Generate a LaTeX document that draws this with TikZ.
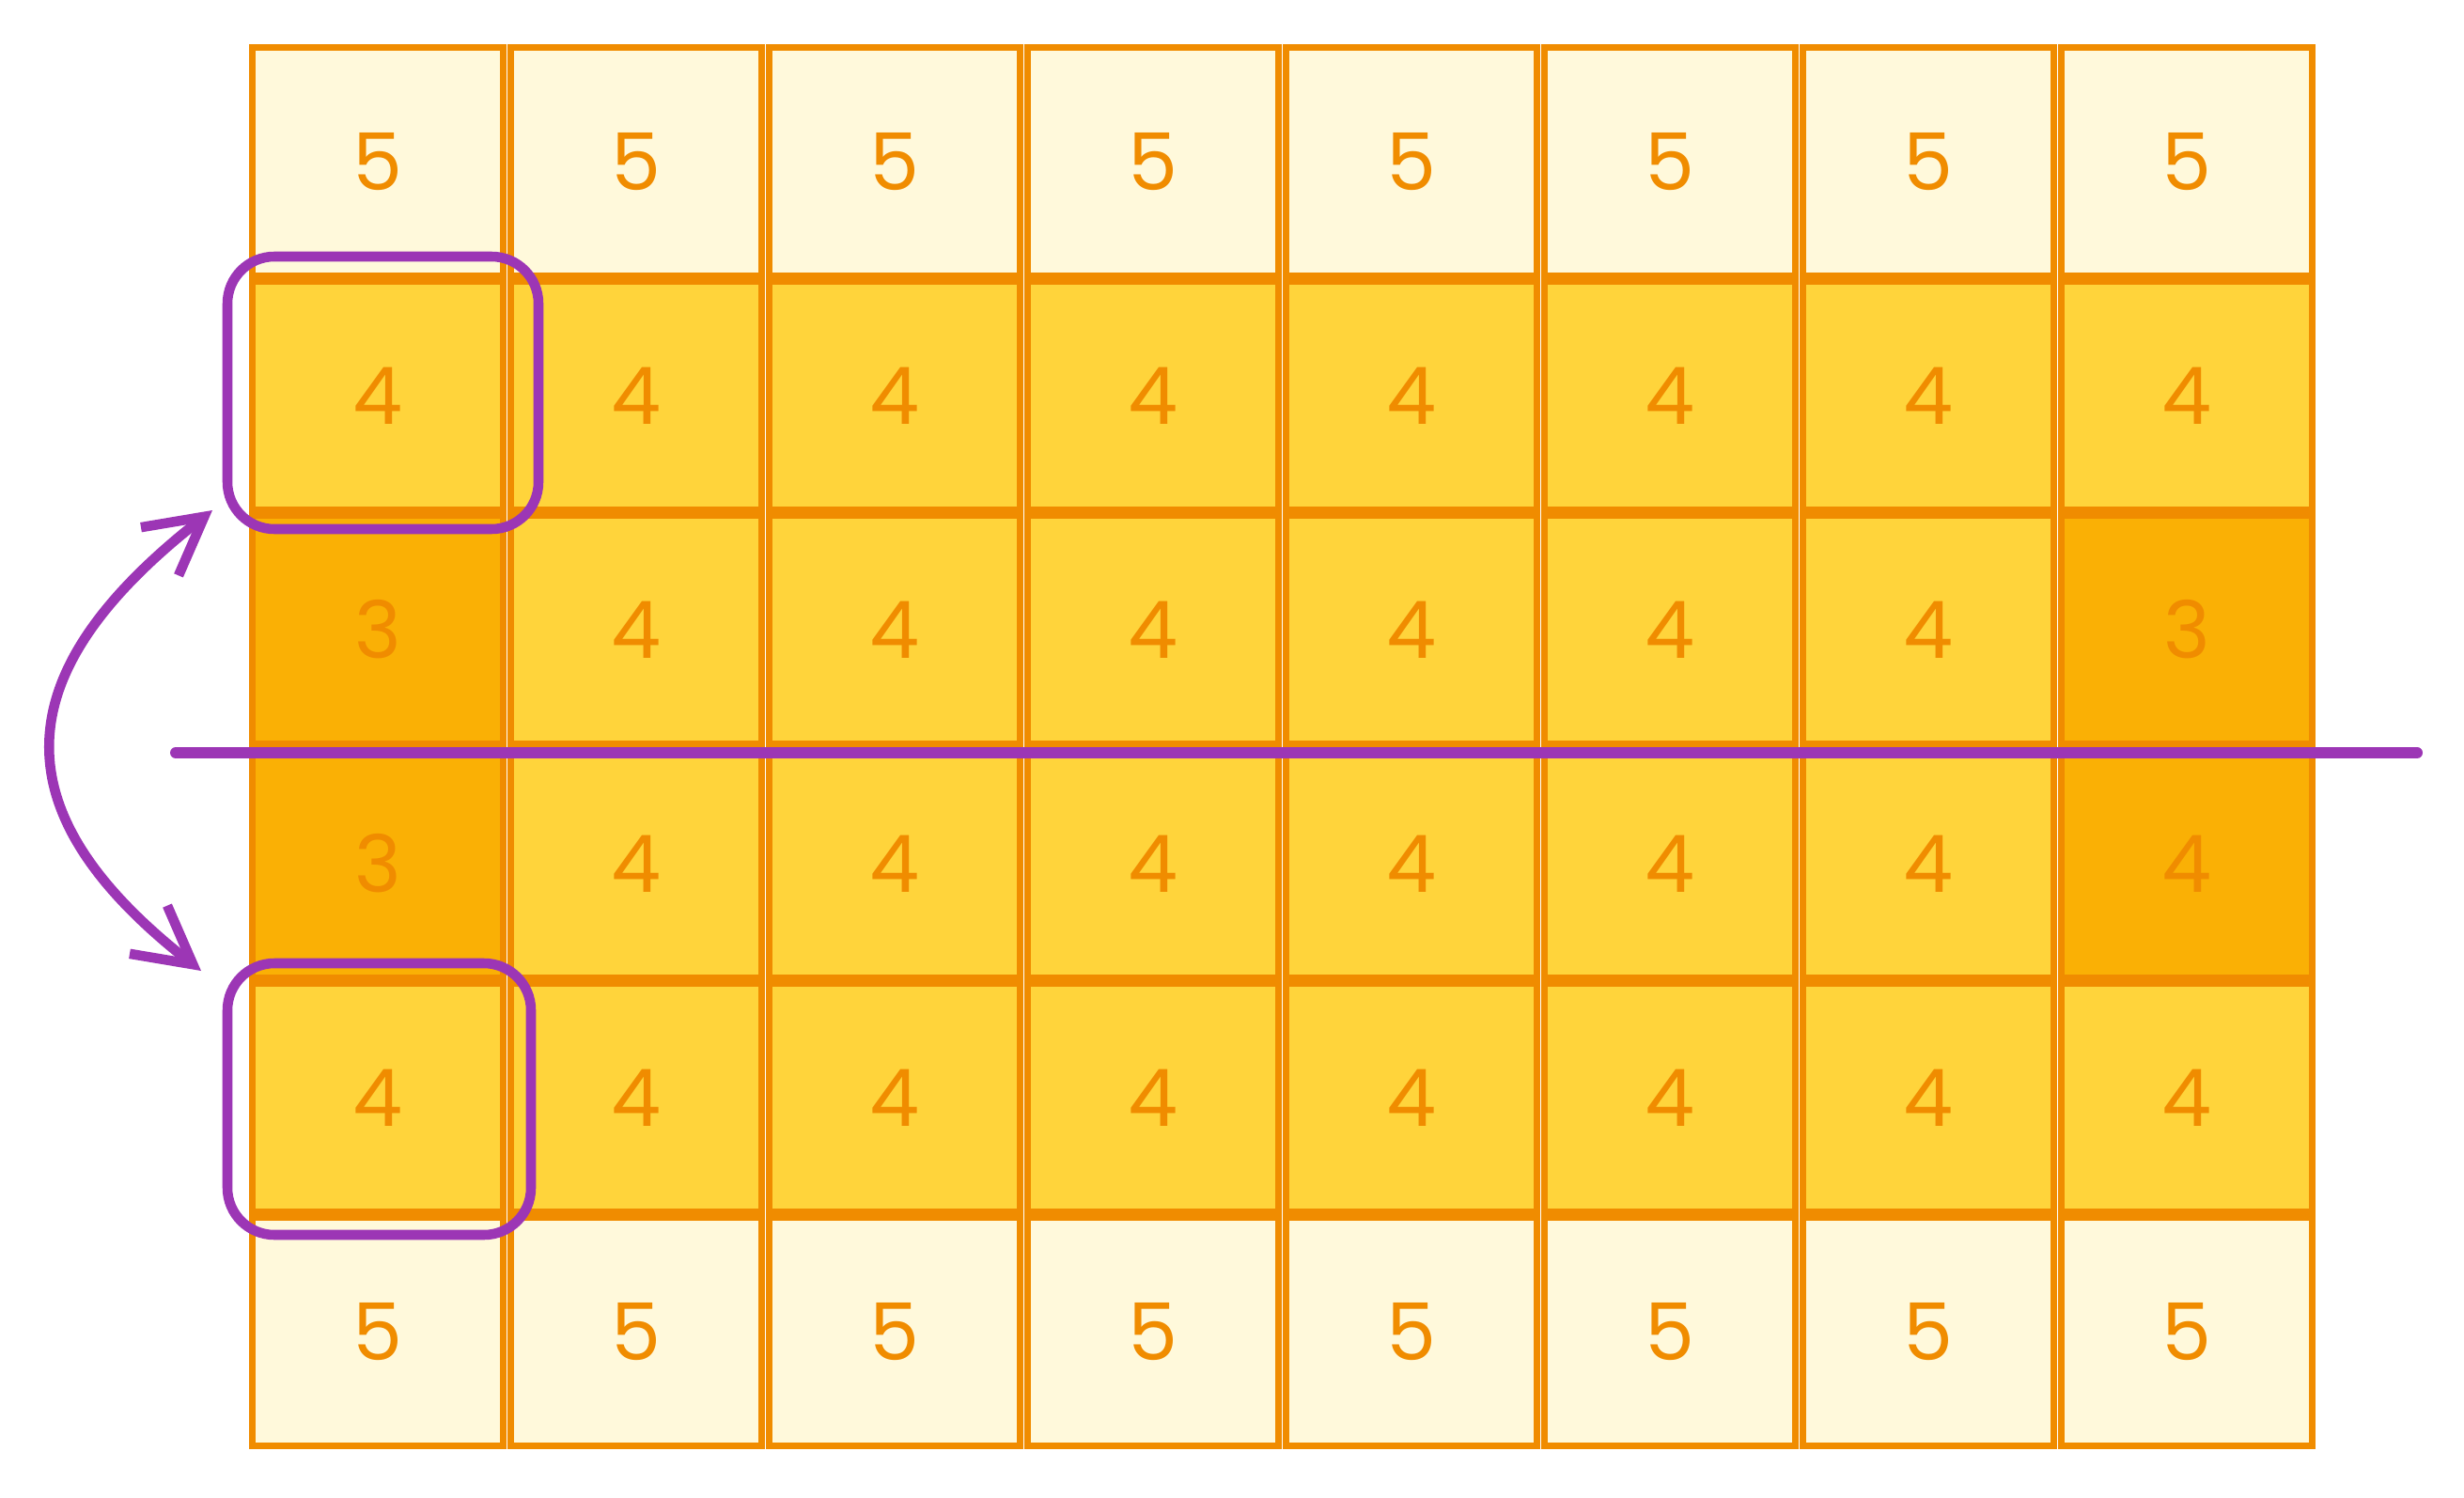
\documentclass[tikz,border=0pt]{standalone}
\usepackage{fontspec}
\setmainfont{Poppins}
\usetikzlibrary{arrows.meta,positioning}

\definecolor{cellline}{HTML}{F08C00}
\definecolor{celllight}{HTML}{FFF9DB}
\definecolor{cellmid}{HTML}{FFD43B}
\definecolor{celldark}{HTML}{FAB005}
\definecolor{grape}{HTML}{9C36B5}

\begin{document}
\begin{tikzpicture}[x=1cm,y=1cm]
\tikzset{
  cell/.style={rectangle,draw=cellline,line width=1.8pt,minimum width=2.67cm,minimum height=2.43cm,
    inner sep=0pt,text=cellline,font=\fontsize{24}{24}\selectfont},
  light/.style={cell,fill=celllight},
  mid/.style={cell,fill=cellmid},
  dark/.style={cell,fill=celldark},
  hilite/.style={rectangle,draw=grape,line width=3pt,rounded corners=0.5cm,inner sep=0pt},
  cutline/.style={draw=grape,line width=3.4pt,line cap=round},
  swaparrow/.style={{Straight Barb[length=6mm,width=6.5mm,line width=3pt]}-{Straight Barb[length=6mm,width=6.5mm,line width=3pt]},
    draw=grape,line width=3pt,line cap=round}
}
\useasboundingbox (0,0) rectangle (26.22,-15.94);
% row 0
\node[light] (c_0_0) at (4.02,-1.72) {5};
\node[light] (c_1_0) at (6.77,-1.72) {5};
\node[light] (c_2_0) at (9.52,-1.72) {5};
\node[light] (c_3_0) at (12.27,-1.72) {5};
\node[light] (c_4_0) at (15.02,-1.72) {5};
\node[light] (c_5_0) at (17.77,-1.72) {5};
\node[light] (c_6_0) at (20.52,-1.72) {5};
\node[light] (c_7_0) at (23.27,-1.72) {5};
% row 1
\node[mid] (c_0_1) at (4.02,-4.21) {4};
\node[mid] (c_1_1) at (6.77,-4.21) {4};
\node[mid] (c_2_1) at (9.52,-4.21) {4};
\node[mid] (c_3_1) at (12.27,-4.21) {4};
\node[mid] (c_4_1) at (15.02,-4.21) {4};
\node[mid] (c_5_1) at (17.77,-4.21) {4};
\node[mid] (c_6_1) at (20.52,-4.21) {4};
\node[mid] (c_7_1) at (23.27,-4.21) {4};
% row 2
\node[dark] (c_0_2) at (4.02,-6.70) {3};
\node[mid] (c_1_2) at (6.77,-6.70) {4};
\node[mid] (c_2_2) at (9.52,-6.70) {4};
\node[mid] (c_3_2) at (12.27,-6.70) {4};
\node[mid] (c_4_2) at (15.02,-6.70) {4};
\node[mid] (c_5_2) at (17.77,-6.70) {4};
\node[mid] (c_6_2) at (20.52,-6.70) {4};
\node[dark] (c_7_2) at (23.27,-6.70) {3};
% row 3
\node[dark] (c_0_3) at (4.02,-9.19) {3};
\node[mid] (c_1_3) at (6.77,-9.19) {4};
\node[mid] (c_2_3) at (9.52,-9.19) {4};
\node[mid] (c_3_3) at (12.27,-9.19) {4};
\node[mid] (c_4_3) at (15.02,-9.19) {4};
\node[mid] (c_5_3) at (17.77,-9.19) {4};
\node[mid] (c_6_3) at (20.52,-9.19) {4};
\node[dark] (c_7_3) at (23.27,-9.19) {4};
% row 4
\node[mid] (c_0_4) at (4.02,-11.68) {4};
\node[mid] (c_1_4) at (6.77,-11.68) {4};
\node[mid] (c_2_4) at (9.52,-11.68) {4};
\node[mid] (c_3_4) at (12.27,-11.68) {4};
\node[mid] (c_4_4) at (15.02,-11.68) {4};
\node[mid] (c_5_4) at (17.77,-11.68) {4};
\node[mid] (c_6_4) at (20.52,-11.68) {4};
\node[mid] (c_7_4) at (23.27,-11.68) {4};
% row 5
\node[light] (c_0_5) at (4.02,-14.17) {5};
\node[light] (c_1_5) at (6.77,-14.17) {5};
\node[light] (c_2_5) at (9.52,-14.17) {5};
\node[light] (c_3_5) at (12.27,-14.17) {5};
\node[light] (c_4_5) at (15.02,-14.17) {5};
\node[light] (c_5_5) at (17.77,-14.17) {5};
\node[light] (c_6_5) at (20.52,-14.17) {5};
\node[light] (c_7_5) at (23.27,-14.17) {5};
% highlights
\node[hilite,minimum width=3.31cm,minimum height=2.90cm] (h_top) at (4.075,-4.18) {};
\node[hilite,minimum width=3.23cm,minimum height=2.89cm] (h_bot) at (4.035,-11.695) {};
% cut line
\coordinate (cut_w) at (1.87,-8.01);
\coordinate (cut_e) at (25.72,-8.01);
\draw[cutline] (cut_w) -- (cut_e);
% swap arrow
\coordinate (a_top) at (2.26,-5.43);
\coordinate (a_bot) at (2.14,-10.33);
\draw[swaparrow] (a_top) to[out=218,in=142,looseness=1.45] (a_bot);
\end{tikzpicture}
\end{document}
